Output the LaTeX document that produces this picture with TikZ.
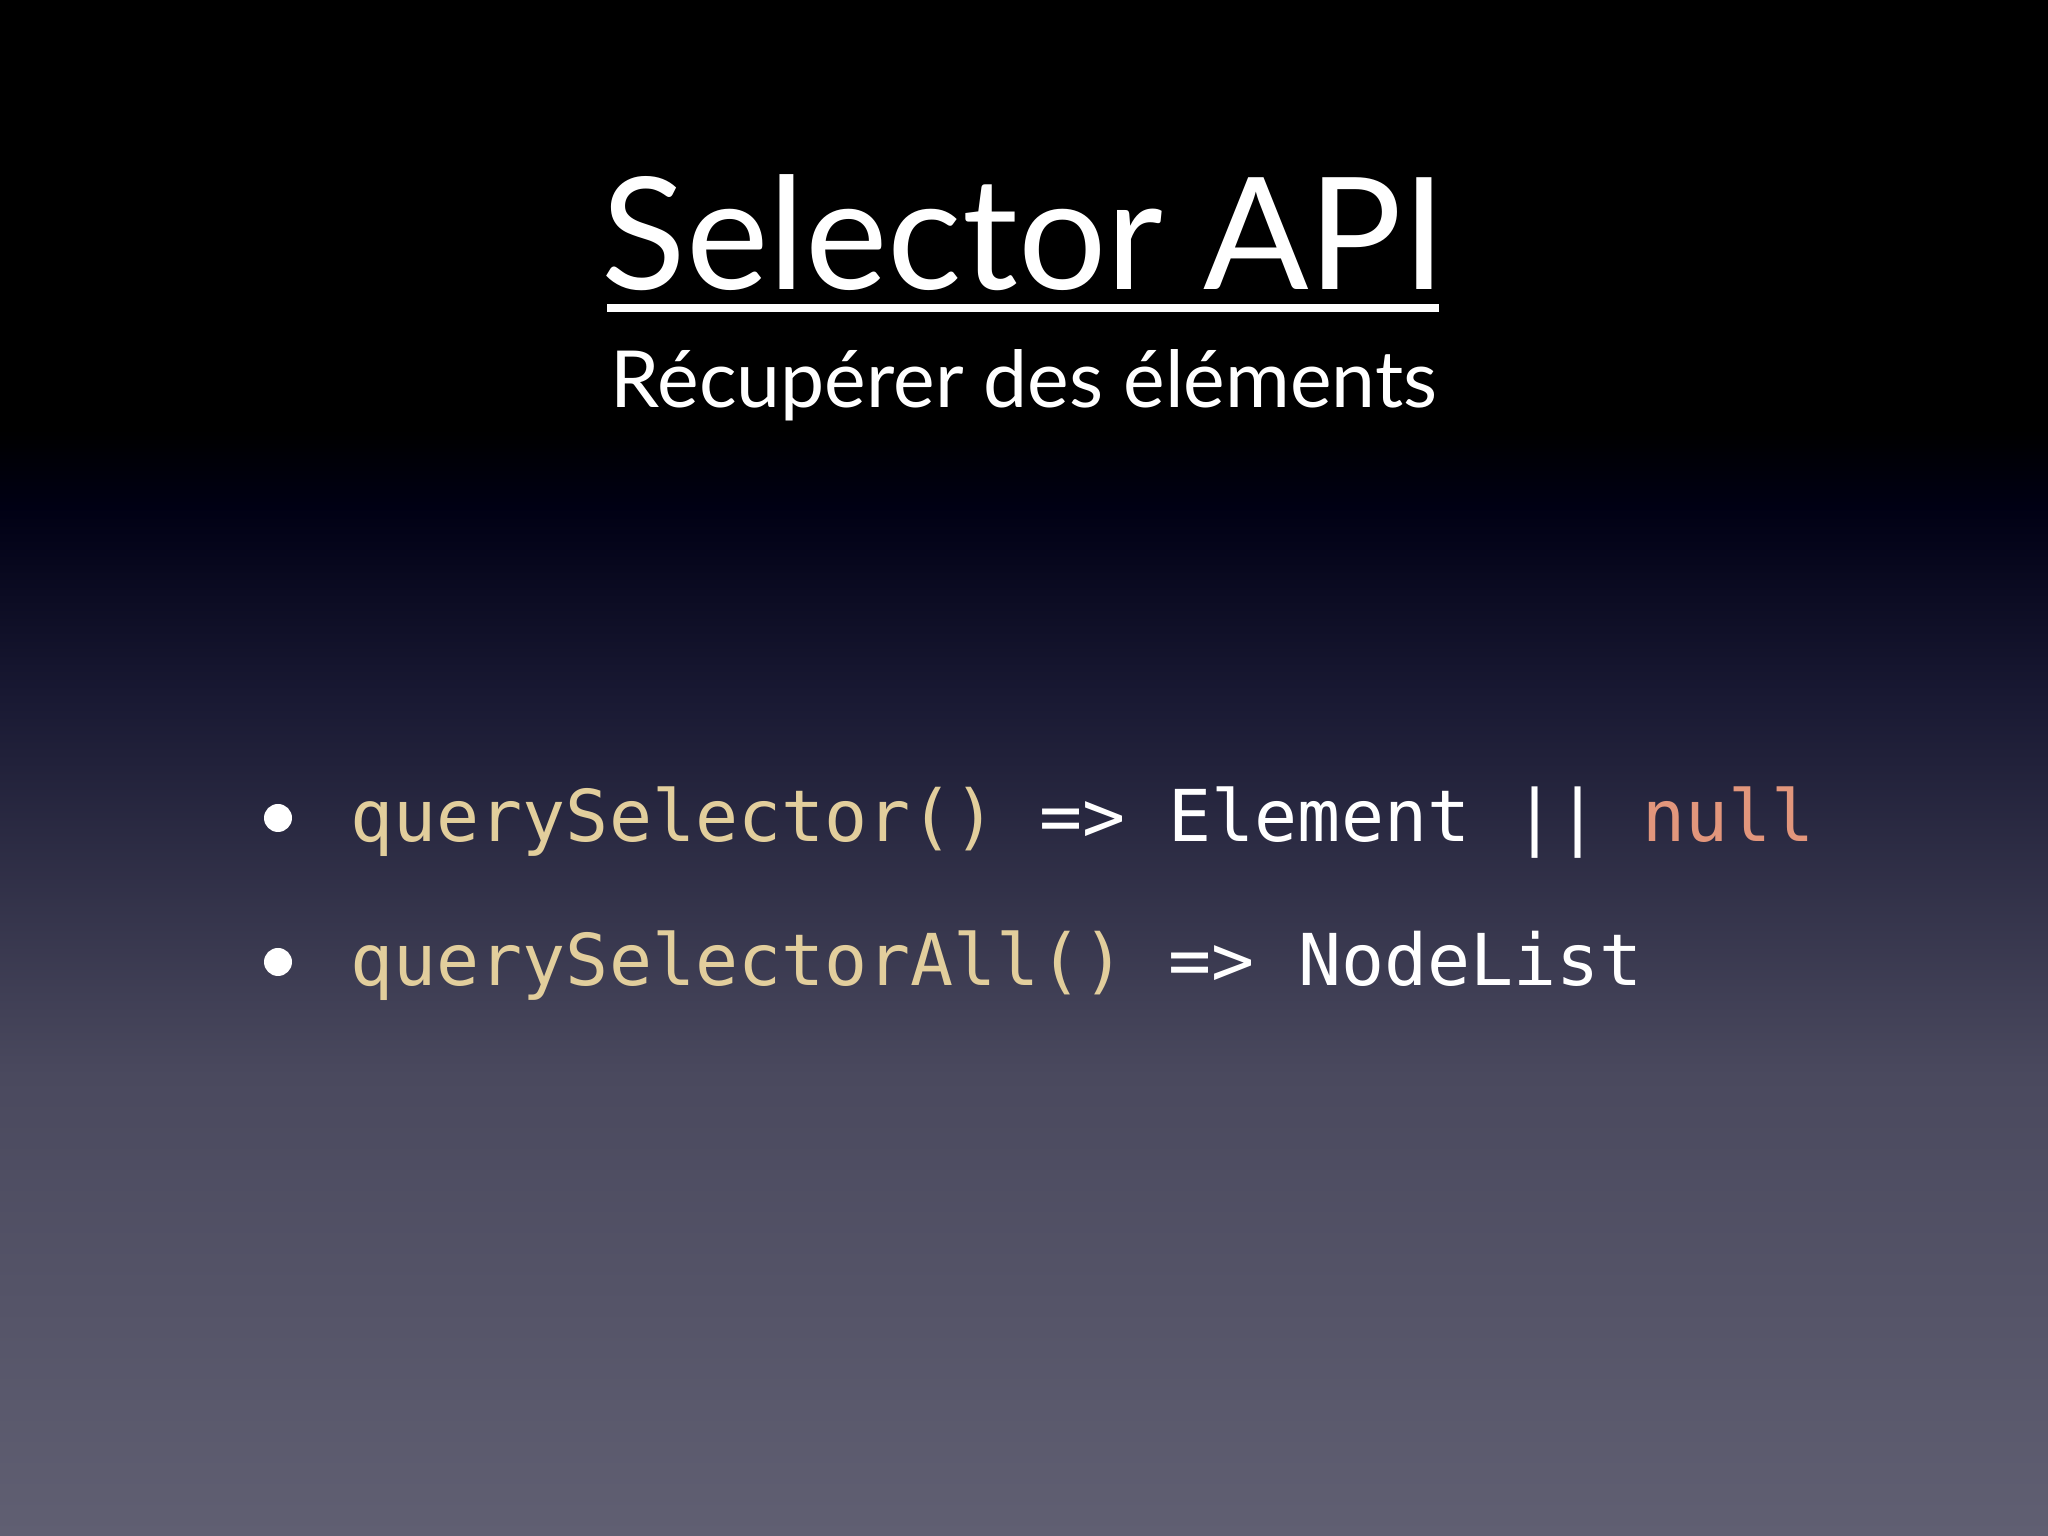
\documentclass[tikz,border=0pt]{standalone}
\usepackage{fontspec}
\setmainfont{Lato}
\newfontfamily\codefont{DejaVu Sans Mono}
\definecolor{tan}{HTML}{E2CE9C}
\definecolor{salmon}{HTML}{E2967C}
\definecolor{bgA}{HTML}{605F72}
\definecolor{bgB}{HTML}{4A495E}
\definecolor{bgC}{HTML}{181832}
\definecolor{bgD}{HTML}{000014}
\definecolor{bgE}{HTML}{000000}
\pgfdeclareverticalshading{slidebg}{100bp}{
 color(0bp)=(bgA);
 color(25bp)=(bgA);
 color(40bp)=(bgB);
 color(52.5bp)=(bgC);
 color(58.5bp)=(bgD);
 color(61bp)=(bgE);
 color(100bp)=(bgE)}
\tikzset{code/.style={anchor=base west,inner sep=0pt,font=\codefont\fontsize{20.35}{24}\selectfont,text=white}}
\begin{document}
\begin{tikzpicture}
\useasboundingbox (0,0) rectangle (20.48,15.36);
\shade[shading=slidebg] (0,0) rectangle (20.48,15.36);
\node[anchor=base,text=white,inner sep=0pt,font=\fontsize{44.4}{50}\selectfont] (title) at (10.24,12.46) {Selector API};
\draw[white,line width=2.5pt] (6.07,12.28) -- (14.39,12.28);
\node[anchor=base,text=white,inner sep=0pt,font=\fontsize{22.4}{27}\selectfont] (sub) at (10.24,11.28) {Récupérer des éléments};
\fill[white] (2.78,7.18) circle (0.14);
\fill[white] (2.78,5.74) circle (0.14);
\node[code] (l1) at (3.50,6.94) {\textcolor{tan}{querySelector()} => Element || \textcolor{salmon}{null}};
\node[code] (l2) at (3.50,5.50) {\textcolor{tan}{querySelectorAll()} => NodeList};
\end{tikzpicture}
\end{document}
